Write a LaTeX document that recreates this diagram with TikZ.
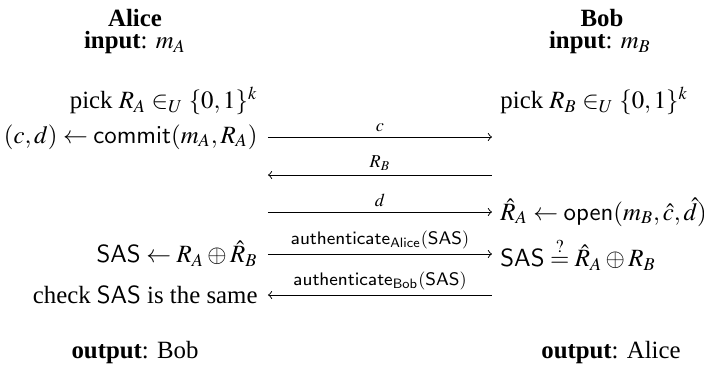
\documentclass[tikz,border=0pt]{standalone}
\usepackage{mathptmx}
\usepackage{fontspec}
\setmainfont{Liberation Serif}
\setsansfont{Liberation Sans}
\begin{document}
\begin{tikzpicture}[>=to, x=0.0155cm, y=-0.0155cm,
    every node/.style={font=\fontsize{10.95}{13.6}\selectfont},
    side/.style={inner sep=0pt},
    msg/.style={->, line width=0.4pt},
    lbl/.style={font=\fontsize{8}{10}\selectfont, inner sep=2pt}]
  \useasboundingbox (0,0) rectangle (704,367);
  % parties
  \node (alice) at (135,18) {\textbf{Alice}};
  \node (inA) at (135,43) {\textbf{input}: $m_A$};
  \node (bob) at (602,18) {\textbf{Bob}};
  \node (inB) at (600,43) {\textbf{input}: $m_B$};
  % Alice side
  \node[side, anchor=east] (pickA) at (258,101) {pick $R_A \in_U \{0,1\}^k$};
  \node[side, anchor=east] (commit) at (258,137) {$(c,d) \leftarrow \mathsf{commit}(m_A,R_A)$};
  \node[side, anchor=east] (sasA) at (258,254) {$\mathsf{SAS} \leftarrow R_A \oplus \hat{R}_B$};
  \node[side, anchor=east] (check) at (258,295) {check $\mathsf{SAS}$ is the same};
  % Bob side
  \node[side, anchor=west] (pickB) at (500,101) {pick $R_B \in_U \{0,1\}^k$};
  \node[side, anchor=west] (open) at (500,212) {$\hat{R}_A \leftarrow \mathsf{open}(m_B,\hat{c},\hat{d})$};
  \node[side, anchor=west] (sasB) at (500,254) {$\mathsf{SAS} \stackrel{?}{=} \hat{R}_A \oplus R_B$};
  % message ends
  \foreach \n/\y in {1/137, 2/175, 3/212, 4/254, 5/295} {
    \coordinate (a\n) at (268,\y);
    \coordinate (b\n) at (492,\y);
  }
  \draw[msg] (a1) -- node[lbl, above] {$c$} (b1);
  \draw[msg] (b2) -- node[lbl, above] {$R_B$} (a2);
  \draw[msg] (a3) -- node[lbl, above] {$d$} (b3);
  \draw[msg] (a4) -- node[lbl, above] {$\mathsf{authenticate}_{\mathsf{Alice}}(\mathsf{SAS})$} (b4);
  \draw[msg] (b5) -- node[lbl, above] {$\mathsf{authenticate}_{\mathsf{Bob}}(\mathsf{SAS})$} (a5);
  % outputs
  \node (outA) at (135,353) {\textbf{output}: Bob};
  \node (outB) at (611,353) {\textbf{output}: Alice};
\end{tikzpicture}
\end{document}
